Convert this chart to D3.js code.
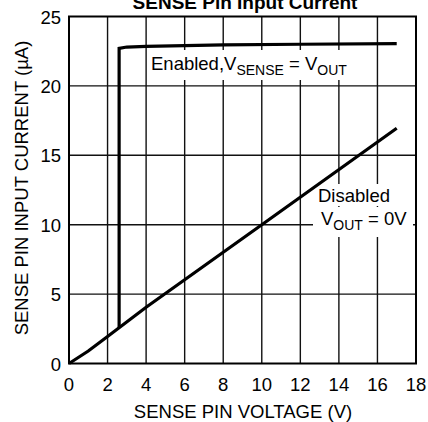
<!DOCTYPE html>
<html><head><meta charset="utf-8">
<script src="https://cdn.jsdelivr.net/npm/d3@7"></script>
<style>body{margin:0;background:#fff;overflow:hidden}svg{display:block}text{font-family:"Liberation Sans",Arial,sans-serif;fill:#000}</style>
</head><body>
<script>
const xTicks = [0,2,4,6,8,10,12,14,16,18];
const yTicks = [0,5,10,15,20,25];
const enabledV = [2.6, 2.6, 3.0, 4.0, 8.0, 12.0, 17.0];
const enabledI = [2.55, 22.7, 22.8, 22.85, 22.95, 23.0, 23.05];
const disabledV = [0, 1, 2, 4, 10, 17];
const disabledI = [0, 0.9, 1.95, 4.05, 10, 16.95];

const W=428,H=422;
const svg=d3.select("body").append("svg").attr("width",W).attr("height",H);
const x=d3.scaleLinear().domain([0,18]).range([69,416]);
const y=d3.scaleLinear().domain([0,25]).range([363.5,16.5]);

// grid
svg.append("g").selectAll("line").data(xTicks.slice(1,-1)).join("line")
  .attr("x1",d=>x(d)).attr("x2",d=>x(d)).attr("y1",y(0)).attr("y2",y(25))
  .attr("stroke","#111").attr("stroke-width",1.4);
svg.append("g").selectAll("line").data(yTicks.slice(1,-1)).join("line")
  .attr("y1",d=>y(d)).attr("y2",d=>y(d)).attr("x1",x(0)).attr("x2",x(18))
  .attr("stroke","#111").attr("stroke-width",1.4);

// label masks
function mask(x0,y0,x1,y1){svg.append("rect").attr("x",x0).attr("y",y0).attr("width",x1-x0).attr("height",y1-y0).attr("fill","#fff");}
mask(149,50,366,80);
mask(316,184,394,206);
mask(313,207,413,237);

// frame
svg.append("rect").attr("x",x(0)).attr("y",y(25)).attr("width",x(18)-x(0)).attr("height",y(0)-y(25))
  .attr("fill","none").attr("stroke","#000").attr("stroke-width",2);

const line=d3.line().x(d=>x(d[0])).y(d=>y(d[1]));
svg.append("path").datum(disabledV.map((v,i)=>[v,disabledI[i]])).attr("d",line)
  .attr("fill","none").attr("stroke","#000").attr("stroke-width",3.2);
svg.append("path").datum(enabledV.map((v,i)=>[v,enabledI[i]])).attr("d",line)
  .attr("fill","none").attr("stroke","#000").attr("stroke-width",3.2).attr("stroke-linejoin","miter");

// ticks
svg.append("g").selectAll("text").data(xTicks).join("text")
  .attr("x",d=>x(d)).attr("y",390.5).attr("text-anchor","middle").attr("font-size",18.5).text(d=>d);
svg.append("g").selectAll("text").data(yTicks).join("text")
  .attr("x",61).attr("y",d=>y(d)+7).attr("text-anchor","end").attr("font-size",18.5).text(d=>d);

// axis titles
svg.append("text").attr("x",243).attr("y",418).attr("text-anchor","middle").attr("font-size",18.5).text("SENSE PIN VOLTAGE (V)");
svg.append("text").attr("transform","translate(28,188) rotate(-90)").attr("text-anchor","middle").attr("font-size",18.5).text("SENSE PIN INPUT CURRENT (µA)");

// title
svg.append("text").attr("x",245).attr("y",9).attr("text-anchor","middle").attr("font-size",19).attr("font-weight","bold").text("SENSE Pin Input Current");

// annotations
const t1=svg.append("text").attr("x",151).attr("y",70).attr("font-size",18.5);
t1.append("tspan").text("Enabled,V");
t1.append("tspan").attr("font-size",14).attr("dy",4.5).text("SENSE");
t1.append("tspan").attr("dy",-4.5).text(" = V");
t1.append("tspan").attr("font-size",14).attr("dy",4.5).text("OUT");

svg.append("text").attr("x",318).attr("y",201.5).attr("font-size",18.5).text("Disabled");
const t2=svg.append("text").attr("x",321).attr("y",225).attr("font-size",18.5);
t2.append("tspan").text("V");
t2.append("tspan").attr("font-size",14).attr("dy",4.5).text("OUT");
t2.append("tspan").attr("dy",-4.5).text(" = 0V");
</script>
</body></html>
